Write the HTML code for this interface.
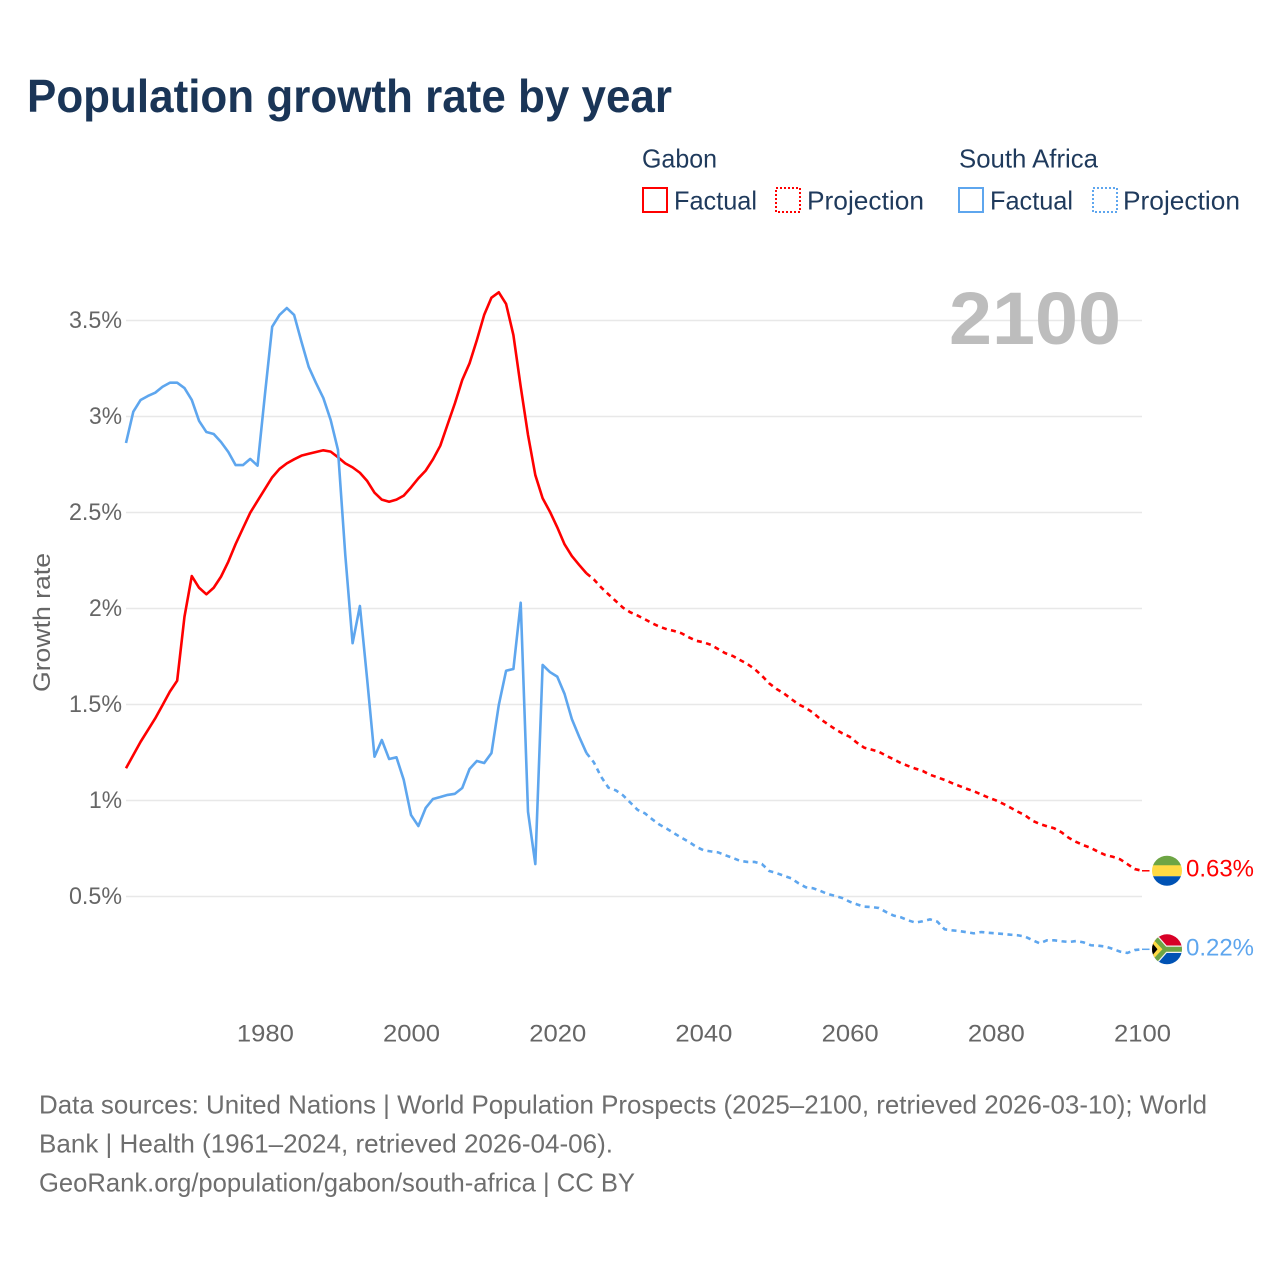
<!DOCTYPE html>
<html lang="en">
<head>
<meta charset="utf-8">
<title>Population growth rate by year</title>
<style>
html,body{margin:0;padding:0;background:#fff;}
svg{display:block;}
text{font-family:"Liberation Sans",sans-serif;}
</style>
</head>
<body>
<svg id="chart" xmlns="http://www.w3.org/2000/svg" width="1280" height="1280" viewBox="0 0 1280 1280">
  <rect width="1280" height="1280" fill="#ffffff"/>
  <text x="27" y="112" font-size="46" font-weight="700" fill="#1a3557" textLength="645" lengthAdjust="spacingAndGlyphs">Population growth rate by year</text>

  <g font-size="26" fill="#1f3a5c">
    <text x="642" y="167.5" textLength="75" lengthAdjust="spacingAndGlyphs">Gabon</text>
    <text x="959" y="167.5" textLength="139" lengthAdjust="spacingAndGlyphs">South Africa</text>
    <rect x="643" y="188" width="24" height="24" fill="none" stroke="#ff0000" stroke-width="2"/>
    <text x="674" y="209.5" textLength="83" lengthAdjust="spacingAndGlyphs">Factual</text>
    <rect x="776" y="188" width="24" height="24" fill="none" stroke="#ff0000" stroke-width="2" stroke-dasharray="2 2"/>
    <text x="807" y="209.5" textLength="117" lengthAdjust="spacingAndGlyphs">Projection</text>
    <rect x="959" y="188" width="24" height="24" fill="none" stroke="#5ea6ee" stroke-width="2"/>
    <text x="990" y="209.5" textLength="83" lengthAdjust="spacingAndGlyphs">Factual</text>
    <rect x="1093" y="188" width="24" height="24" fill="none" stroke="#5ea6ee" stroke-width="2" stroke-dasharray="2 2"/>
    <text x="1123" y="209.5" textLength="117" lengthAdjust="spacingAndGlyphs">Projection</text>
  </g>

  <g id="grid"></g>
  <g id="yticks" font-size="24" fill="#666666" text-anchor="end"></g>
  <g id="xticks" font-size="24" fill="#666666" text-anchor="middle"></g>

  <text transform="translate(50,692) rotate(-90)" font-size="24" fill="#666666" textLength="139" lengthAdjust="spacingAndGlyphs">Growth rate</text>

  <text x="1121" y="344" font-size="74" font-weight="700" fill="#bdbdbd" text-anchor="end" textLength="172" lengthAdjust="spacingAndGlyphs">2100</text>

  <g id="series"></g>

  <defs>
    <clipPath id="flag-clip"><circle cx="0" cy="0" r="15"/></clipPath>
  </defs>

  <g id="flag-gabon" clip-path="url(#flag-clip)">
    <rect x="-15" y="-15.5" width="30" height="10.5" fill="#6da544"/>
    <rect x="-15" y="-5.5" width="30" height="11" fill="#ffda44"/>
    <rect x="-15" y="5.5" width="30" height="10" fill="#0052b4"/>
  </g>
  <g id="flag-south-africa" clip-path="url(#flag-clip)">
    <rect x="-15" y="-15.5" width="30" height="15.5" fill="#d80027"/>
    <rect x="-15" y="0" width="30" height="15.5" fill="#0052b4"/>
    <path d="M-17-17 L-2 0 L17 0 M-17 17 L-2 0" fill="none" stroke="#f0f0f0" stroke-width="7.5"/>
    <path d="M-17-17 L-2 0 L17 0 M-17 17 L-2 0" fill="none" stroke="#6da544" stroke-width="5"/>
    <path d="M-15-11 L-4.5 0 L-15 11 Z" fill="#ffda44"/>
    <path d="M-15-6.5 L-9.5 0 L-15 6.5 Z" fill="#000000"/>
  </g>

  <text id="label-gabon" x="1186" font-size="24.5" fill="#ff0000" textLength="68" lengthAdjust="spacingAndGlyphs">0.63%</text>
  <text id="label-south-africa" x="1186" font-size="24.5" fill="#5ea6ee" textLength="68" lengthAdjust="spacingAndGlyphs">0.22%</text>

  <g font-size="26" fill="#6e6e6e">
    <text x="39" y="1113.5" textLength="1168" lengthAdjust="spacingAndGlyphs">Data sources: United Nations | World Population Prospects (2025–2100, retrieved 2026-03-10); World</text>
    <text x="39" y="1152.5" textLength="574" lengthAdjust="spacingAndGlyphs">Bank | Health (1961–2024, retrieved 2026-04-06).</text>
    <text x="39" y="1191.5" textLength="596" lengthAdjust="spacingAndGlyphs">GeoRank.org/population/gabon/south-africa | CC BY</text>
  </g>
</svg>

<script>
var yTickValues = [0.5, 1, 1.5, 2, 2.5, 3, 3.5];
var yTickLabels = ["0.5%", "1%", "1.5%", "2%", "2.5%", "3%", "3.5%"];
var xTickYears = [1980, 2000, 2020, 2040, 2060, 2080, 2100];
var xTickLabels = ["1980", "2000", "2020", "2040", "2060", "2080", "2100"];
var factualStartYear = 1961;
var projectionStartYear = 2025;

var gabonFactual = [
  1.168,1.237,1.306,1.367,1.428,1.497,1.567,1.624,1.957,2.169,
  2.108,2.074,2.108,2.166,2.244,2.336,2.418,2.499,2.561,2.622,
  2.683,2.727,2.756,2.777,2.796,2.806,2.815,2.824,2.817,2.788,
  2.756,2.735,2.707,2.664,2.603,2.567,2.556,2.567,2.588,2.631,
  2.678,2.718,2.777,2.848,2.959,3.069,3.190,3.277,3.398,3.529,
  3.619,3.647,3.586,3.424,3.155,2.904,2.695,2.574,2.504,2.423,
  2.334,2.273,2.227,2.183
];
var gabonProjection = [
  2.152,2.110,2.074,2.039,2.004,1.980,1.963,1.944,1.923,1.905,
  1.892,1.883,1.871,1.850,1.832,1.824,1.811,1.789,1.767,1.753,
  1.732,1.711,1.685,1.650,1.610,1.581,1.558,1.529,1.501,1.482,
  1.457,1.424,1.398,1.372,1.350,1.332,1.301,1.275,1.265,1.254,
  1.233,1.215,1.195,1.180,1.166,1.154,1.134,1.121,1.107,1.091,
  1.076,1.061,1.048,1.032,1.015,1.001,0.983,0.963,0.942,0.923,
  0.895,0.878,0.866,0.855,0.834,0.805,0.784,0.767,0.753,0.733,
  0.716,0.707,0.694,0.669,0.643,0.634
];
var southAfricaFactual = [
  2.862,3.025,3.086,3.107,3.124,3.155,3.176,3.176,3.148,3.086,
  2.977,2.919,2.909,2.867,2.815,2.747,2.747,2.779,2.744,3.112,
  3.468,3.529,3.565,3.529,3.390,3.258,3.174,3.096,2.982,2.826,
  2.279,1.819,2.013,1.628,1.228,1.315,1.216,1.225,1.107,0.924,
  0.867,0.961,1.008,1.018,1.029,1.035,1.065,1.164,1.206,1.195,
  1.247,1.497,1.676,1.685,2.030,0.942,0.669,1.706,1.669,1.645,
  1.555,1.424,1.332,1.247
];
var southAfricaProjection = [
  1.199,1.124,1.067,1.053,1.027,0.989,0.951,0.933,0.902,0.874,
  0.853,0.829,0.806,0.785,0.759,0.741,0.735,0.730,0.715,0.701,
  0.686,0.680,0.680,0.669,0.633,0.622,0.608,0.595,0.569,0.548,
  0.543,0.529,0.513,0.503,0.492,0.473,0.459,0.447,0.445,0.440,
  0.419,0.401,0.392,0.376,0.364,0.371,0.381,0.369,0.329,0.324,
  0.320,0.314,0.308,0.315,0.311,0.308,0.305,0.301,0.298,0.291,
  0.273,0.256,0.272,0.272,0.267,0.263,0.268,0.261,0.246,0.244,
  0.239,0.227,0.213,0.206,0.221,0.225
];

var SVGNS = "http://www.w3.org/2000/svg";
var plotLeft = 126, plotRight = 1142;
var yearMin = 1961, yearMax = 2100;

function xScale(year) {
  return plotLeft + (year - yearMin) * (plotRight - plotLeft) / (yearMax - yearMin);
}
function yScale(value) {
  return 992.5 - value * 192;
}
function pathFrom(startYear, values, prefixYear, prefixValue) {
  var parts = [];
  if (prefixYear !== null) {
    parts.push("M" + xScale(prefixYear).toFixed(2) + " " + yScale(prefixValue).toFixed(2));
  }
  values.forEach(function (v, i) {
    var cmd = parts.length ? "L" : "M";
    parts.push(cmd + xScale(startYear + i).toFixed(2) + " " + yScale(v).toFixed(2));
  });
  return parts.join(" ");
}

var grid = document.getElementById("grid");
var yticks = document.getElementById("yticks");
var xticks = document.getElementById("xticks");
var series = document.getElementById("series");

yTickValues.forEach(function (v, i) {
  var line = document.createElementNS(SVGNS, "line");
  
  
  line.setAttribute("x1", plotLeft);
  line.setAttribute("x2", plotRight);
  line.setAttribute("y1", yScale(v));
  line.setAttribute("y2", yScale(v));
  line.setAttribute("stroke", "#e8e8e8");
  line.setAttribute("stroke-width", "1.5");
  grid.appendChild(line);

  var t = document.createElementNS(SVGNS, "text");
  
  
  t.setAttribute("x", 122);
  t.setAttribute("y", yScale(v) + 7.5);
  t.setAttribute("textLength", yTickLabels[i].length > 2 ? 53 : 33);
  t.setAttribute("lengthAdjust", "spacingAndGlyphs");
  t.textContent = yTickLabels[i];
  yticks.appendChild(t);
});

xTickYears.forEach(function (year, i) {
  var t = document.createElementNS(SVGNS, "text");
  
  
  t.setAttribute("x", xScale(year) + 0.5);
  t.setAttribute("y", 1041.5);
  t.setAttribute("textLength", 57);
  t.setAttribute("lengthAdjust", "spacingAndGlyphs");
  t.textContent = xTickLabels[i];
  xticks.appendChild(t);
});

var gabonColor = "#ff0000";
var southAfricaColor = "#5ea6ee";

function drawSeries(name, factual, projection, color) {
  var lastFactualYear = factualStartYear + factual.length - 1;
  var solid = document.createElementNS(SVGNS, "path");
  
  
  solid.setAttribute("data-series", name);
  solid.setAttribute("d", pathFrom(factualStartYear, factual, null, 0));
  solid.setAttribute("fill", "none");
  solid.setAttribute("stroke", color);
  solid.setAttribute("stroke-width", "2.6");
  solid.setAttribute("stroke-linejoin", "round");
  series.appendChild(solid);

  var dashed = document.createElementNS(SVGNS, "path");
  
  
  dashed.setAttribute("data-series", name);
  dashed.setAttribute("d", pathFrom(projectionStartYear, projection, lastFactualYear, factual[factual.length - 1]));
  dashed.setAttribute("fill", "none");
  dashed.setAttribute("stroke", color);
  dashed.setAttribute("stroke-width", "2.6");
  dashed.setAttribute("stroke-dasharray", "5 4.4");
  series.appendChild(dashed);

  var endValue = projection[projection.length - 1];
  var connector = document.createElementNS(SVGNS, "line");
  
  
  connector.setAttribute("x1", xScale(yearMax));
  connector.setAttribute("x2", xScale(yearMax) + 7.5);
  connector.setAttribute("y1", yScale(endValue));
  connector.setAttribute("y2", yScale(endValue));
  connector.setAttribute("stroke", color);
  connector.setAttribute("stroke-width", "1.5");
  series.appendChild(connector);
  return endValue;
}

var gabonEnd = drawSeries("gabon", gabonFactual, gabonProjection, gabonColor);
var southAfricaEnd = drawSeries("south-africa", southAfricaFactual, southAfricaProjection, southAfricaColor);

document.getElementById("flag-gabon").setAttribute("transform", "translate(1167," + yScale(gabonEnd).toFixed(2) + ")");
document.getElementById("flag-south-africa").setAttribute("transform", "translate(1167," + yScale(southAfricaEnd).toFixed(2) + ")");
document.getElementById("label-gabon").setAttribute("y", (yScale(gabonEnd) + 5.5).toFixed(2));
document.getElementById("label-south-africa").setAttribute("y", (yScale(southAfricaEnd) + 6).toFixed(2));
</script>
</body>
</html>
